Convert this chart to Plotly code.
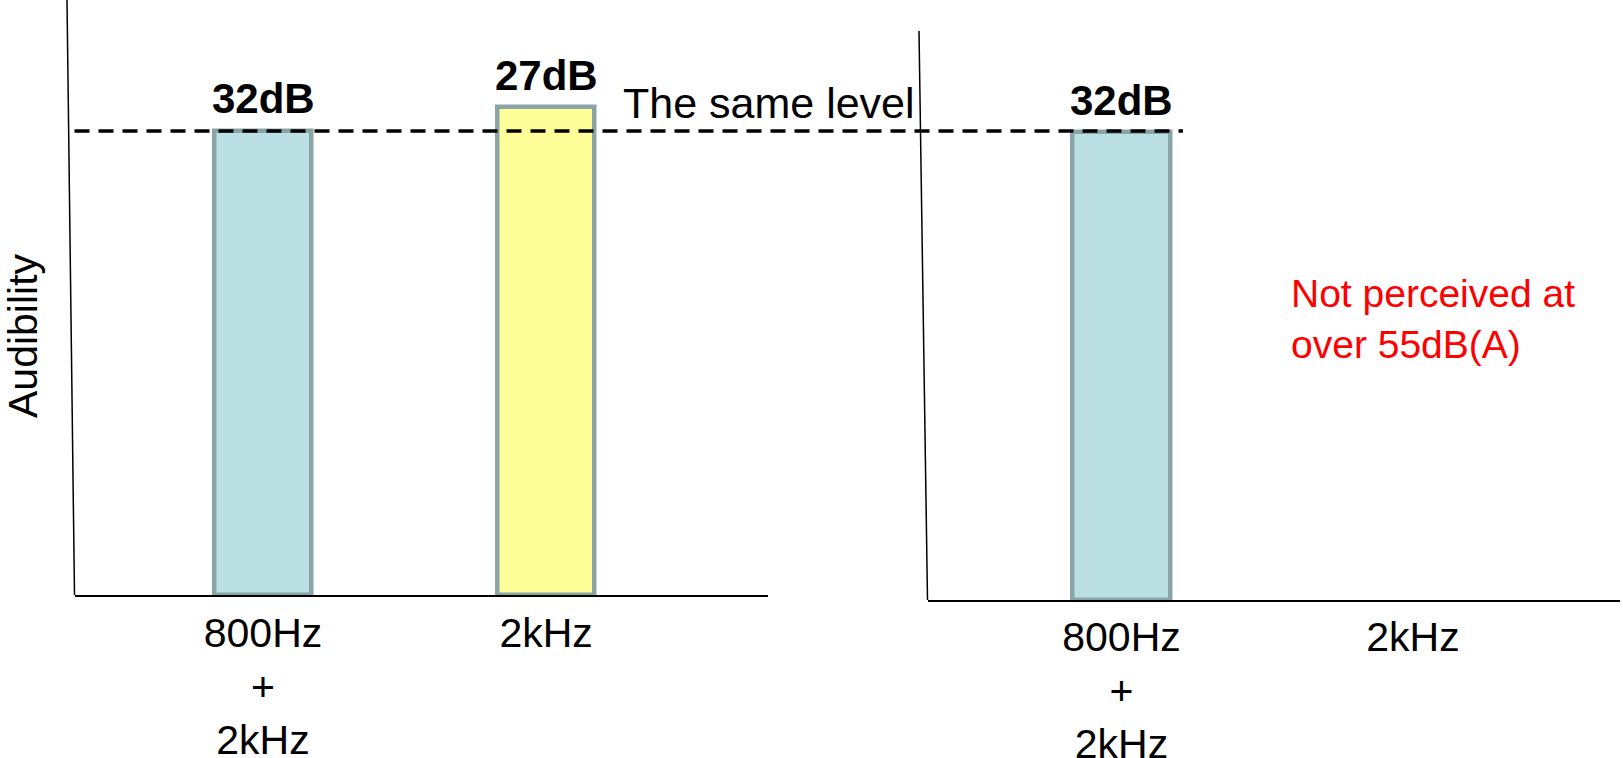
import plotly.graph_objects as go

# Audibility of the combined tone vs. the single 2 kHz tone (arbitrary units)
left_categories = ["800Hz<br>+<br>2kHz", "2kHz"]
left_audibility = [78, 82]
left_db_labels = ["32dB", "27dB"]
left_colors = ["#BBE0E3", "#FFFF99"]

right_categories = ["800Hz<br>+<br>2kHz", "2kHz"]
right_audibility = [78, None]
right_db_labels = ["32dB", ""]
right_colors = ["#BBE0E3", "#BBE0E3"]

same_level = 78
FONT = "Liberation Sans, Arial, sans-serif"
W, H = 1623, 758
BAR_EDGE = "#89A5A8"

fig = go.Figure()

xs = [0, 1]
fig.add_trace(go.Bar(
    x=xs, y=left_audibility, width=0.345,
    marker=dict(color=left_colors, line=dict(color=BAR_EDGE, width=4.5)),
    xaxis="x", yaxis="y", showlegend=False, hoverinfo="skip",
))
fig.add_trace(go.Bar(
    x=xs, y=right_audibility, width=0.335,
    marker=dict(color=right_colors, line=dict(color=BAR_EDGE, width=4.5)),
    xaxis="x2", yaxis="y2", showlegend=False, hoverinfo="skip",
))

axis_common = dict(showgrid=False, zeroline=False, automargin=False, fixedrange=True)

fig.update_layout(
    width=W, height=H,
    margin=dict(l=0, r=0, t=0, b=0),
    paper_bgcolor="white", plot_bgcolor="white",
    font=dict(family=FONT, size=40, color="black"),
    bargap=0,
    xaxis=dict(
        domain=[74.5 / W, 768 / W], range=[-0.666, 1.784],
        tickmode="array", tickvals=xs, ticktext=left_categories,
        showline=True, linecolor="black", linewidth=2, layer="below traces",
        ticks="", ticklabelstandoff=1, tickfont=dict(size=41),
        anchor="y", **axis_common,
    ),
    yaxis=dict(
        domain=[1 - 595 / H, 1.0], range=[0, 100],
        showticklabels=False, ticks="", showline=False,
        anchor="x", **axis_common,
    ),
    xaxis2=dict(
        domain=[927.5 / W, 1620 / W], range=[-0.6655, 1.71],
        tickmode="array", tickvals=xs, ticktext=right_categories,
        showline=True, linecolor="black", linewidth=2, layer="below traces",
        ticks="", ticklabelstandoff=0, tickfont=dict(size=41),
        anchor="y2", **axis_common,
    ),
    yaxis2=dict(
        domain=[1 - 600 / H, 1 - 31 / H], range=[0, 94.9],
        showticklabels=False, ticks="", showline=False,
        anchor="x2", **axis_common,
    ),
)

# Slightly leaning vertical axis lines
fig.add_shape(type="line", xref="x domain", yref="y domain",
              x0=-7.5 / 693.5, y0=1, x1=0, y1=0,
              line=dict(color="black", width=1.5), layer="below")
fig.add_shape(type="line", xref="x2 domain", yref="y2 domain",
              x0=-8.5 / 692.5, y0=1, x1=0, y1=0,
              line=dict(color="black", width=1.5), layer="below")

# Dashed reference level running across both panels
fig.add_shape(type="line", xref="paper", yref="y",
              x0=74.5 / W, x1=1183 / W, y0=same_level, y1=same_level,
              line=dict(color="black", width=3.5, dash="15px,9px"), layer="above")

# Threshold labels above the bars
for xv, yv, lab in zip(xs, left_audibility, left_db_labels):
    if yv is not None and lab:
        fig.add_annotation(x=xv, y=yv, xref="x", yref="y", text=f"<b>{lab}</b>",
                           showarrow=False, yanchor="middle", yshift=32,
                           font=dict(size=42, family=FONT, color="black"))
for xv, yv, lab in zip(xs, right_audibility, right_db_labels):
    if yv is not None and lab:
        fig.add_annotation(x=xv, y=yv, xref="x2", yref="y2", text=f"<b>{lab}</b>",
                           showarrow=False, yanchor="middle", yshift=32,
                           font=dict(size=42, family=FONT, color="black"))

fig.add_annotation(x=621 / W, y=same_level, xref="paper", yref="y",
                   text="The same level", showarrow=False,
                   xanchor="left", yanchor="middle", yshift=28,
                   font=dict(size=43, family=FONT, color="black"))

fig.add_annotation(x=23 / W, y=1 - 336 / H, xref="paper", yref="paper",
                   text="Audibility", textangle=-90, showarrow=False,
                   xanchor="center", yanchor="middle",
                   font=dict(size=41, family=FONT, color="black"))

fig.add_annotation(x=1289 / W, y=1 - 318.5 / H, xref="paper", yref="paper",
                   text="Not perceived at<br>over 55dB(A)", showarrow=False,
                   xanchor="left", yanchor="middle", align="left",
                   font=dict(size=39, family=FONT, color="#FF0000"))

fig.write_html("out.html")
